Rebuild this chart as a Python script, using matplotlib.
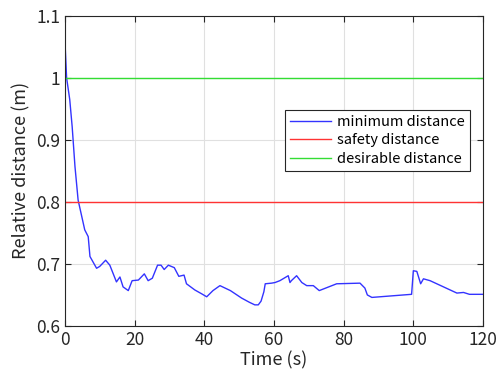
import matplotlib.pyplot as plt

plt.rcParams['font.family'] = ['Noto Sans CJK JP', 'DejaVu Sans']

# minimum distance trace
t = [0, 0.5, 1.4, 2.1, 2.9, 3.8, 5.7, 6.7, 7.2, 9.1, 10.0, 11.7, 12.9, 14.8, 15.8,
     16.7, 18.2, 19.3, 21.1, 22.8, 23.9, 25.1, 26.6, 27.6, 28.5, 29.7, 31.4, 32.7,
     34.2, 34.9, 37.3, 39.2, 40.7, 42.5, 44.5, 47.5, 50.7, 53.0, 54.5, 55.5, 56.3,
     57.1, 57.5, 59.3, 60.3, 61.7, 64.1, 64.6, 65.0, 66.5, 68.0, 69.4, 71.3, 73.0,
     78.0, 84.7, 86.1, 86.8, 88.1, 99.5, 100.0, 101.0, 102.1, 102.9, 104.8, 112.5,
     114.4, 116.1, 120.0]
d_min = [1.062, 1.0, 0.965, 0.921, 0.857, 0.803, 0.755, 0.744, 0.712, 0.693, 0.696,
         0.706, 0.698, 0.671, 0.679, 0.663, 0.657, 0.673, 0.674, 0.684, 0.673, 0.677,
         0.698, 0.698, 0.691, 0.698, 0.694, 0.680, 0.682, 0.668, 0.658, 0.652, 0.647,
         0.657, 0.665, 0.657, 0.645, 0.638, 0.634, 0.634, 0.640, 0.655, 0.668, 0.669,
         0.670, 0.673, 0.681, 0.670, 0.673, 0.681, 0.670, 0.665, 0.665, 0.657, 0.668,
         0.669, 0.661, 0.650, 0.646, 0.651, 0.689, 0.688, 0.668, 0.676, 0.673, 0.653,
         0.654, 0.651, 0.651]
safety = 0.8
desirable = 1.0

fig = plt.figure(figsize=(4.99, 3.79), dpi=100)
ax = fig.add_axes([0.130, 0.140, 0.838, 0.818])

ax.plot(t, d_min, color='#3333ff', lw=1.0, label='minimum distance')
ax.axhline(safety, color='#ff3333', lw=1.0, label='safety distance')
ax.axhline(desirable, color='#33dd33', lw=1.0, label='desirable distance')

ax.set_xlim(0, 120)
ax.set_ylim(0.6, 1.1)
ax.set_xticks(range(0, 121, 20))
ax.set_yticks([0.6, 0.7, 0.8, 0.9, 1.0, 1.1])
ax.set_yticklabels(['0.6', '0.7', '0.8', '0.9', '1', '1.1'])
ax.grid(True, color='#e0e0e0', lw=0.8)
ax.set_axisbelow(True)
ax.tick_params(direction='in', top=True, right=True, labelsize=12.5,
               colors='#262626', length=4, width=0.8)
for s in ax.spines.values():
    s.set_color('#262626')
    s.set_linewidth(0.8)

ax.set_xlabel('Time (s)', fontsize=13, color='#262626', labelpad=2)
ax.set_ylabel('Relative distance (m)', fontsize=13, color='#262626', labelpad=4)

leg = ax.legend(loc='upper left', bbox_to_anchor=(0.527, 0.697), fontsize=10.5,
                fancybox=False, framealpha=1, edgecolor='#262626',
                handlelength=2.8, handletextpad=0.4, borderpad=0.35,
                labelspacing=0.3, borderaxespad=0)
leg.get_frame().set_linewidth(0.8)

fig.savefig('out.png', dpi=100)
